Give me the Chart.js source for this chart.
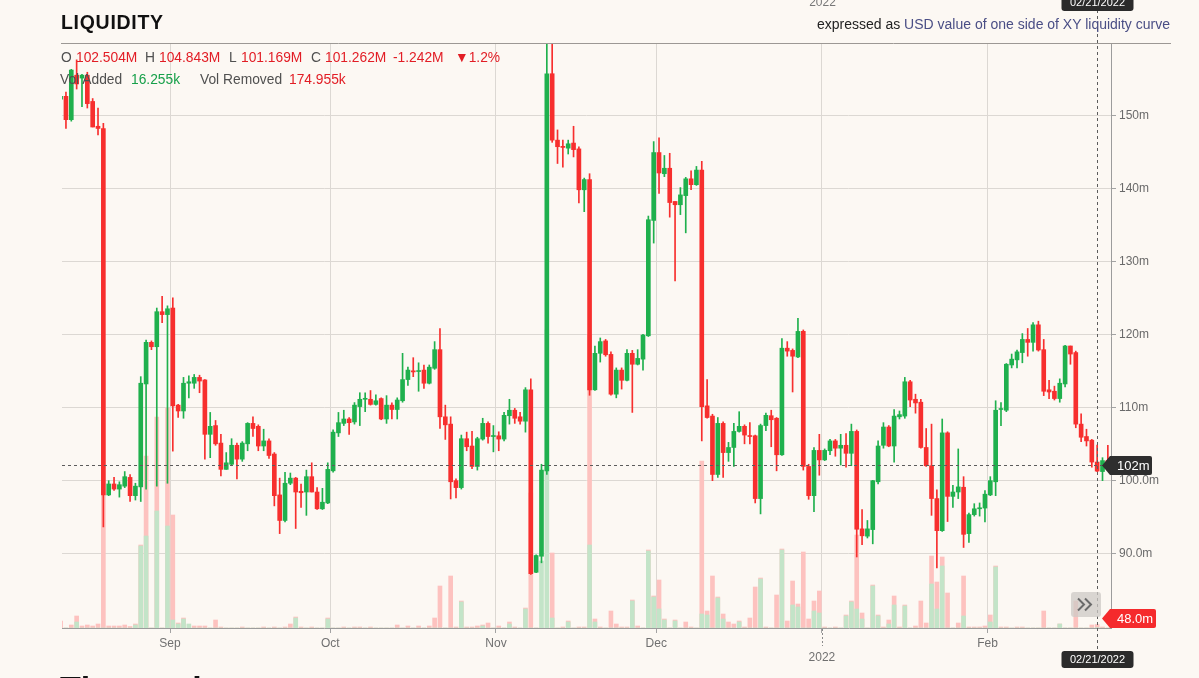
<!DOCTYPE html>
<html><head><meta charset="utf-8">
<script src="https://cdn.jsdelivr.net/npm/chart.js@4.4.1/dist/chart.umd.min.js"></script>
<style>
html,body{margin:0;padding:0;background:#fcf8f3;overflow:hidden;}
body{width:1199px;height:678px;position:relative;font-family:"Liberation Sans",Arial,Helvetica,sans-serif;}
#wrap{position:absolute;left:0;top:0;width:1199px;height:678px;}
.t{position:absolute;white-space:nowrap;line-height:16px;font-size:13.8px;}
.g{color:#505050}.r{color:#e21d25}.gr{color:#17a04a}
</style></head><body>
<div id="wrap"><canvas id="c" width="1199" height="678" style="width:1199px;height:678px"></canvas></div>
<div class="t" style="left:61px;top:12px;line-height:20px;font-weight:bold;font-size:19.5px;letter-spacing:0.7px;color:#111;">LIQUIDITY</div>
<div class="t" style="right:29px;top:16px;font-size:14px;color:#222;">expressed as <span style="color:#4a4e85">USD value of one side of XY liquidity curve</span></div>
<div class="t g" style="left:61px;top:50px;">O</div><div class="t r" style="left:76px;top:50px;">102.504M</div>
<div class="t g" style="left:145px;top:50px;">H</div><div class="t r" style="left:159px;top:50px;">104.843M</div>
<div class="t g" style="left:229px;top:50px;">L</div><div class="t r" style="left:241px;top:50px;">101.169M</div>
<div class="t g" style="left:311px;top:50px;">C</div><div class="t r" style="left:325px;top:50px;">101.262M</div>
<div class="t r" style="left:393px;top:50px;">-1.242M</div><div class="t r" style="left:455px;top:50px;">▼1.2%</div>
<div class="t g" style="left:60px;top:72px;">Vol Added</div><div class="t gr" style="left:131px;top:72px;">16.255k</div>
<div class="t g" style="left:200px;top:72px;">Vol Removed</div><div class="t r" style="left:289px;top:72px;">174.955k</div>
<div class="t" style="left:60px;top:671px;line-height:34px;font-size:34px;font-weight:bold;color:#111;">The pool</div>
<script>
// ---- data (daily candles, index 0 = first visible day) ----
const opens = [152.2,152.6,149.4,155.5,155.1,155.5,151.9,148.5,148.2,98.0,
99.5,98.8,99.2,100.4,97.9,99.1,113.2,118.9,118.3,123.1,
122.7,123.6,110.3,109.5,113.3,113.3,114.1,113.75,106.3,107.5,
105.1,101.5,102.2,104.8,102.9,105.0,107.8,107.4,104.7,105.4,
103.6,98.0,94.5,99.6,100.3,98.5,98.4,100.5,98.4,96.1,
96.9,101.3,106.5,107.8,108.4,108.0,110.1,111.1,111.1,110.4,
111.2,108.4,110.3,109.7,110.9,113.8,115.0,114.9,115.1,113.3,
115.35,117.9,108.7,107.7,99.95,99.0,105.7,104.7,101.9,105.65,
107.8,106.0,106.1,105.65,108.85,109.6,108.7,108.1,112.4,87.4,
89.6,101.3,155.7,146.6,145.75,145.5,146.2,145.4,139.8,141.2,
112.4,117.4,119.1,117.25,111.8,115.1,113.7,117.4,115.9,116.6,
119.8,135.6,144.9,142.0,142.75,138.2,137.75,139.0,141.3,140.5,
142.5,110.2,108.8,100.8,107.8,103.8,104.5,106.7,107.4,106.1,
106.1,97.5,107.5,108.85,108.5,103.5,118.1,117.8,116.9,120.4,
101.9,97.9,104.1,102.8,104.05,105.4,104.4,104.8,103.7,106.7,
93.35,92.35,93.25,99.8,104.8,107.3,104.7,108.7,108.8,113.5,
111.1,110.7,104.5,102.0,97.5,93.1,106.5,97.8,98.4,99.05,
92.7,95.3,96.1,96.2,98.0,99.8,109.7,109.6,115.8,116.5,
117.5,119.3,118.9,121.3,117.9,112.4,112.2,111.2,113.2,118.4,
117.5,107.7,106.0,105.5,102.504,101.2,102.7];
const highs = [152.8,153.2,156.3,157.6,155.6,155.9,152.3,151.0,148.9,99.95,
100.4,99.8,101.2,100.8,99.6,114.2,119.2,119.1,123.6,125.2,
123.9,125.0,110.4,114.1,114.3,114.5,114.4,113.8,109.3,108.2,
106.3,103.8,105.7,105.1,105.3,107.9,108.7,107.6,107.0,105.7,
103.8,100.3,101.1,101.0,100.4,99.5,101.4,102.4,99.0,98.9,
102.4,106.9,109.3,109.6,108.6,110.65,112.0,112.0,112.3,111.7,
111.3,111.6,110.6,111.3,117.4,115.5,116.8,116.1,115.8,115.8,
119.0,120.8,110.3,108.7,100.2,106.2,106.6,106.7,105.9,108.5,
108.0,107.5,106.65,109.3,111.1,109.85,109.3,112.7,113.9,89.8,
102.2,161,161,148.0,146.6,146.6,148.5,145.7,141.4,142.0,
118.4,119.5,119.3,117.6,115.4,115.4,117.9,117.8,117.9,120.0,
136.2,146.4,146.9,144.5,144.8,138.2,140.1,141.5,142.4,143.0,
143.7,113.8,109.05,108.6,108.0,105.2,107.8,109.4,107.6,107.9,
106.2,107.7,109.2,109.6,108.6,119.4,119.0,118.0,122.2,120.6,
102.2,104.5,106.3,104.3,105.6,105.6,106.3,106.4,107.7,106.9,
96.0,94.5,100.0,105.4,107.9,107.5,109.7,109.5,114.1,113.7,
111.8,111.1,107.1,107.7,98.7,108.4,106.65,99.3,104.3,100.5,
95.5,96.8,96.9,98.6,100.5,110.9,110.65,116.0,117.3,117.85,
120.1,120.8,121.6,121.8,119.3,113.7,112.9,113.9,118.5,118.4,
117.7,109.1,107.0,105.6,104.843,103.1,104.8];
const lows = [152.0,148.2,149.2,153.6,151.2,151.0,148.4,147.3,93.6,97.9,
98.6,97.7,99.0,97.1,97.3,97.1,98.8,117.9,99.2,121.6,
99.6,104.0,108.6,108.5,111.3,112.6,112.0,102.9,103.1,104.8,
100.6,101.5,102.0,100.2,102.6,104.05,106.0,104.05,104.05,103.0,
96.5,92.7,94.3,99.4,93.4,96.3,95.2,98.4,96.0,96.0,
96.8,101.1,106.0,107.5,106.3,107.7,107.5,109.4,110.3,110.3,
108.3,107.8,108.4,108.4,110.7,113.0,114.2,112.2,112.6,113.2,
115.2,107.1,105.6,97.45,97.6,98.8,104.05,101.6,101.4,105.5,
105.1,103.9,104.05,105.4,107.7,107.8,107.7,106.6,87.1,87.35,
88.7,100.8,146.3,143.4,142.9,144.7,144.3,138.0,136.8,111.65,
112.3,116.2,117.0,111.65,111.3,112.5,113.6,109.3,115.8,115.1,
119.7,132.5,139.3,141.6,136.05,127.3,136.4,133.9,139.8,140.4,
105.4,108.5,99.95,100.4,100.4,102.6,101.9,106.6,105.0,105.0,
96.9,95.4,106.8,104.6,101.3,103.4,117.0,112.1,116.8,101.4,
97.4,95.7,100.7,102.7,103.5,103.3,102.1,101.8,102.0,89.5,
91.2,92.1,91.3,99.5,104.4,104.6,102.5,108.4,108.5,110.1,
109.2,104.4,101.9,95.2,88.0,93.0,94.35,96.3,97.5,90.8,
91.5,95.1,95.1,94.3,97.9,97.9,107.5,109.4,115.4,115.4,
116.1,117.0,117.7,117.7,111.6,111.2,111.0,110.7,112.8,115.9,
107.2,105.3,104.7,101.8,101.169,99.95,102.0];
const closes = [152.6,149.4,156.2,154.3,155.5,151.6,148.4,148.2,98.0,99.5,
98.8,99.4,100.5,97.9,99.2,113.3,118.9,118.3,123.1,122.7,
123.5,110.2,109.5,113.3,113.5,114.1,113.6,106.3,107.4,105.0,
101.5,102.4,104.8,102.9,105.1,107.8,107.1,104.7,105.4,103.4,
97.9,94.5,99.6,100.3,98.4,98.3,100.5,98.4,96.1,97.0,
101.5,106.6,107.9,108.4,107.9,110.3,111.1,111.2,110.4,110.9,
108.4,110.3,109.7,111.0,113.8,115.1,114.85,115.0,113.3,115.5,
117.9,108.7,107.6,99.8,99.0,105.7,104.6,101.9,105.7,107.8,
106.0,106.1,105.65,108.9,109.6,108.5,108.1,112.4,87.2,89.7,
101.4,155.7,146.6,145.7,145.6,146.1,145.3,139.8,141.2,112.4,
117.4,119.0,117.2,111.8,115.1,113.7,117.4,115.9,116.7,119.9,
135.7,144.9,142.1,142.75,138.05,137.75,139.1,141.3,140.5,142.5,
110.1,108.6,100.8,107.8,103.8,104.5,106.7,107.4,106.2,106.0,
97.5,107.5,108.9,108.3,103.5,118.1,117.7,117.0,120.4,101.9,
97.9,104.1,102.8,104.1,105.4,104.4,104.8,103.7,106.7,93.3,
92.4,93.35,99.95,104.7,107.3,104.7,108.8,109.0,113.5,111.0,
110.6,104.5,102.0,97.5,93.1,106.5,97.8,98.4,99.1,92.6,
95.3,96.1,96.2,98.1,99.95,109.6,109.75,115.9,116.6,117.6,
119.3,118.9,121.3,117.85,112.2,112.1,111.2,113.3,118.4,117.3,
107.7,105.9,105.4,102.5,101.262,102.7,102.1];
// volume, thousands
const volRemoved = [350,0,150,600,100,150,100,200,13400,100,
100,100,150,75,200,4150,8600,0,10550,0,
11000,5650,250,500,0,100,100,100,0,400,
50,0,0,0,50,0,0,0,50,0,
50,0,50,200,550,50,0,50,0,0,
500,0,0,50,0,50,50,0,50,0,
0,0,0,150,0,100,0,100,0,100,
500,2100,0,2600,50,1350,50,50,100,150,
250,0,100,0,300,50,0,1000,6750,0,
0,0,3750,0,50,350,0,50,50,14650,
450,50,0,850,200,50,50,1400,100,0,
3900,1600,2400,450,0,400,0,300,50,0,
8350,850,2600,1550,700,300,200,350,50,500,
2050,2500,50,0,1650,3950,350,2350,1200,3800,
450,1350,1850,50,0,50,0,650,1350,4650,
750,0,2150,650,50,400,1600,50,1150,0,
100,1350,250,3600,2300,3550,1750,0,250,2600,
50,50,50,100,650,3100,50,50,0,50,
50,0,0,0,850,0,0,200,0,0,
1350,0,0,150,175,50,0];
const volAdded = [0,0,0,300,0,0,0,0,0,0,
0,0,0,0,150,4100,4600,0,5850,0,
5100,400,200,450,200,0,0,0,0,0,
0,0,0,0,0,0,0,0,0,0,
0,0,0,0,500,0,0,0,0,0,
450,0,0,0,0,0,0,0,0,0,
0,0,0,0,0,0,0,0,0,0,
0,0,0,0,0,1300,0,0,0,100,
0,0,0,0,200,0,0,950,0,0,
3350,14900,500,0,0,300,0,0,0,4150,
300,0,0,0,0,0,0,1350,0,0,
3850,1550,950,400,0,350,0,0,0,0,
700,650,0,1500,450,0,0,300,0,0,
0,2450,0,0,0,3900,0,1150,1050,0,
0,850,750,0,0,0,0,600,1300,950,
450,0,2100,600,0,200,1150,0,1100,0,
0,0,0,2200,950,3100,0,0,0,600,
0,0,0,0,300,3050,0,0,0,0,
0,0,0,0,0,0,0,200,0,0,
0,0,0,0,16,0,0];
const monthTickPos = [20.48, 50.48, 81.48, 111.48, 142.48, 173.48];
const monthTickLabels = ['Sep', 'Oct', 'Nov', 'Dec', ['', '2022'], 'Feb'];
const yTickVals = [90, 100, 110, 120, 130, 140, 150];
const yTickLabels = ['90.0m', '100.0m', '110m', '120m', '130m', '140m', '150m'];
const crossIndex = 194, crossPrice = 102.1, crossDate = '02/21/2022';
const lastLabel = '102m', volLabel = '48.0m';

Chart.defaults.font.family = '"Liberation Sans", Arial, Helvetica, sans-serif';
const GREEN = '#1fb04d', RED = '#f72f2e';
const idx = opens.map((_, i) => i);
const cols = idx.map(i => closes[i] >= opens[i] ? GREEN : RED);

function tag(ctx, x, y, w, color, text) {
  const h = 19, tipW = 8;
  ctx.beginPath();
  ctx.moveTo(x, y);
  ctx.lineTo(x + tipW, y - h / 2);
  ctx.lineTo(x + w - 2, y - h / 2);
  ctx.quadraticCurveTo(x + w, y - h / 2, x + w, y - h / 2 + 2);
  ctx.lineTo(x + w, y + h / 2 - 2);
  ctx.quadraticCurveTo(x + w, y + h / 2, x + w - 2, y + h / 2);
  ctx.lineTo(x + tipW, y + h / 2);
  ctx.closePath();
  ctx.fillStyle = color; ctx.fill();
  ctx.fillStyle = '#fff'; ctx.font = '13px "Liberation Sans", Arial, sans-serif';
  ctx.textAlign = 'left'; ctx.textBaseline = 'middle';
  ctx.fillText(text, x + 15, y + 0.5);
}
function rr(ctx, x, y, w, h, r) {
  ctx.beginPath();
  ctx.moveTo(x + r, y); ctx.lineTo(x + w - r, y); ctx.quadraticCurveTo(x + w, y, x + w, y + r);
  ctx.lineTo(x + w, y + h - r); ctx.quadraticCurveTo(x + w, y + h, x + w - r, y + h);
  ctx.lineTo(x + r, y + h); ctx.quadraticCurveTo(x, y + h, x, y + h - r);
  ctx.lineTo(x, y + r); ctx.quadraticCurveTo(x, y, x + r, y); ctx.closePath();
}

const overlay = {
  id: 'overlay',
  afterDraw(chart) {
    const ctx = chart.ctx, xs = chart.scales.x, ys = chart.scales.y, ca = chart.chartArea;
    ctx.save();
    ctx.strokeStyle = '#9c9894'; ctx.lineWidth = 1; ctx.setLineDash([]);
    ctx.beginPath(); ctx.moveTo(61, ca.top - 0.5); ctx.lineTo(1171, ca.top - 0.5); ctx.stroke();
    const jx = Math.round(xs.getPixelForValue(monthTickPos[4])) + 0.5;
    ctx.strokeStyle = '#8a8a8a'; ctx.setLineDash([2, 2]);
    ctx.beginPath(); ctx.moveTo(jx, ca.bottom + 1); ctx.lineTo(jx, ca.bottom + 18); ctx.stroke();
    const cx = Math.round(xs.getPixelForValue(crossIndex)) + 0.5;
    const cy = Math.round(ys.getPixelForValue(crossPrice)) + 0.5;
    ctx.strokeStyle = '#5c5c5c'; ctx.setLineDash([3, 3]);
    ctx.beginPath(); ctx.moveTo(ca.left, cy); ctx.lineTo(ca.right, cy); ctx.stroke();
    ctx.beginPath(); ctx.moveTo(cx, 10); ctx.lineTo(cx, 651); ctx.stroke();
    ctx.setLineDash([]);
    rr(ctx, 1071, 592, 30, 25, 3);
    ctx.fillStyle = 'rgba(205,202,198,0.75)'; ctx.fill();
    ctx.strokeStyle = '#6a6a6a'; ctx.lineWidth = 2;
    ctx.beginPath();
    ctx.moveTo(1078, 598.5); ctx.lineTo(1084, 604.5); ctx.lineTo(1078, 610.5);
    ctx.moveTo(1085, 598.5); ctx.lineTo(1091, 604.5); ctx.lineTo(1085, 610.5);
    ctx.stroke();
    tag(ctx, 1102, cy, 50, '#2e2e2e', lastLabel);
    tag(ctx, 1102, 618.5, 54, '#f52a2c', volLabel);
    ctx.font = '11px "Liberation Sans", Arial, sans-serif';
    ctx.textAlign = 'center'; ctx.textBaseline = 'middle';
    rr(ctx, cx - 36, 651, 72, 17, 3); ctx.fillStyle = '#2b2b2b'; ctx.fill();
    ctx.fillStyle = '#fff'; ctx.fillText(crossDate, cx, 659.5);
    rr(ctx, cx - 36, -7, 72, 18, 3); ctx.fillStyle = '#2b2b2b'; ctx.fill();
    ctx.fillStyle = '#fff'; ctx.fillText(crossDate, cx, 3);
    ctx.fillStyle = '#777'; ctx.font = '12px "Liberation Sans", Arial, sans-serif';
    ctx.textBaseline = 'alphabetic';
    ctx.fillText('2022', jx, 6);
    ctx.restore();
  }
};

new Chart(document.getElementById('c'), {
  type: 'bar',
  data: {
    datasets: [
      { label: 'body', data: idx.map(i => ({ x: i, y: [opens[i], closes[i]] })), backgroundColor: cols,
        barThickness: 4, minBarLength: 1, grouped: false, yAxisID: 'y', clip: 0, borderWidth: 0 },
      { label: 'wick', data: idx.map(i => ({ x: i, y: [lows[i], highs[i]] })), backgroundColor: cols,
        barThickness: 1, grouped: false, yAxisID: 'y', clip: 0, borderWidth: 0 },
      { label: 'added', data: idx.map(i => ({ x: i, y: volAdded[i] })), backgroundColor: '#c3e4c8',
        barThickness: 4, grouped: false, yAxisID: 'yv', clip: 0, borderWidth: 0 },
      { label: 'removed', data: idx.map(i => ({ x: i, y: volRemoved[i] })), backgroundColor: '#fdc2bf',
        barThickness: 4, grouped: false, yAxisID: 'yv', clip: 0, borderWidth: 0 }
    ]
  },
  options: {
    responsive: false, animation: false, events: [],
    layout: { padding: { left: 62, top: 44, right: 0, bottom: 0 } },
    plugins: { legend: { display: false }, tooltip: { enabled: false } },
    scales: {
      x: {
        type: 'linear', min: 0.26, max: 196.59, offset: false, position: 'bottom',
        afterBuildTicks: s => { s.ticks = monthTickPos.map(v => ({ value: v })); },
        afterFit: s => { s.height = 50; },
        ticks: { callback: (v, i) => monthTickLabels[i], color: '#707070', font: { size: 12 }, padding: 3,
                 autoSkip: false, maxRotation: 0 },
        grid: { color: '#dcd8d3', tickLength: 5, tickColor: '#a3a3a3', offset: false },
        border: { display: true, color: '#9c9c9c' }
      },
      y: {
        type: 'linear', position: 'right', min: 79.77, max: 159.77,
        afterBuildTicks: s => { s.ticks = yTickVals.map(v => ({ value: v })); },
        afterFit: s => { s.width = 88; },
        ticks: { callback: (v, i) => yTickLabels[i], color: '#6a6a6a', font: { size: 12 }, padding: 3 },
        grid: { color: '#dcd8d3', tickLength: 5, tickColor: '#a3a3a3' },
        border: { display: true, color: '#9c9c9c' }
      },
      yv: { type: 'linear', display: false, min: 0, max: 29200 }
    }
  },
  plugins: [overlay]
});
</script>
</body></html>
